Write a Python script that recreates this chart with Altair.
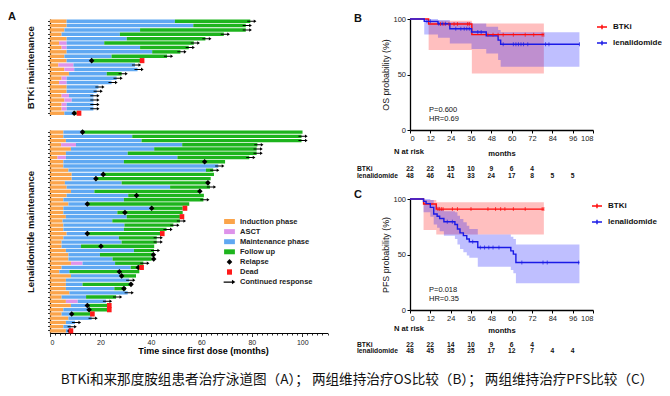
import altair as alt
import pandas as pd

FONT = "Liberation Sans"
CJK = "Noto Sans CJK SC"

# ---------------- Panel A: swimmer plot ----------------
PHASES = ["Induction phase", "ASCT", "Maintenance phase", "Follow up",
          "Relapse", "Dead", "Continued response"]
PHASE_COLORS = ["#fba44a", "#de93ea", "#5fa8f2", "#1db41d",
                "#000000", "#ff1a1a", "#000000"]
RECT = "M-1.2,-0.55H1.2V0.55H-1.2Z"
DIAMOND = "M0,-0.62L0.62,0L0,0.62L-0.62,0Z"
SQUARE = "M-0.55,-0.6H0.55V0.6H-0.55Z"
ARROW = "M-1.3,-0.14H0.55V-0.5L1.3,0L0.55,0.5V0.14H-1.3Z"
PHASE_SHAPES = [RECT, RECT, RECT, RECT, DIAMOND, SQUARE, ARROW]

btki_ind = [6.6, 6.6, 5.7, 4.6, 6.6, 3.6, 4.6, 6.6, 5.7, 6.6, 3.3, 5.7, 7.5, 4.6, 3.6,
            6.6, 6.6, 4.6, 5.7, 4.6, 4.6, 5.7]
btki_asct = [None, None, None, None, None, 6.6, 6.6, None, None, None, 9.3, 9.6, None,
             6.6, 6.6, None, None, 7.5, 8.6, 6.6, 6.6, None]
btki_maint = [49.5, 56.8, 35.7, 27.7, 30.4, 21.5, 35.7, 40.5, 24.4, 16.5, 33.7, 34.7,
              22.5, 26.4, 24.4, 19.2, 18.5, 17.2, 17.2, 17.2, 17.2, 9.3]
btki_follow = [79.4, 77.6, 77.6, 68.9, 61.6, 57.0, 55.0, 51.7, 46.4, 36.3, None, None,
               28.4, None, None, None, None, None, None, None, None, 10.6]
btki_relapse = [None] * 9 + [16.5] + [None] * 11 + [9.6]
btki_dead = [None] * 9 + [36.5] + [None] * 11 + [11.5]
btki_cont = [1, 1, 1, 1, 1, 1, 1, 1, 1, 0, 1, 1, 1, 1, 1, 1, 1, 1, 1, 1, 1, 0]

lena_ind = [5.3, 5.3, 6.3, 4.4, 8.3, 6.3, 3.0, 5.3, 5.3, 7.3, 8.6, 8.6, 5.9, 6.6, 8.3, 6.6,
            5.3, 7.3, 5.3, 5.3, 6.3, 5.0, 5.3, 5.3, 6.6, 5.3, 4.6, 4.6, 6.3, 7.3, 7.3, 8.3,
            4.6, 3.7, 8.3, 6.3, 6.3, 6.3, 7.7, 4.6, 6.3, 8.3, 5.3, 4.6, 7.3, 6.3, 5.3, 6.3]
lena_asct = [None, None, None, 10.3, None, None, 6.3] + [None] * 24 + [12.9] + \
            [None] * 8 + [11.0] + [None] * 7
lena_maint = [12.5, 32.6, 36.3, 52.4, 41.3, 30.8, 50.5, 29.3, 66.7, 61.8, 21.1, 18.2,
              28.4, 47.6, 17.6, 31.0, 29.3, 14.8, 40.3, 26.7, 30.4, 24.7, 29.5, 29.3,
              14.8, 27.3, 28.4, 12.3, 33.3, 19.8, 24.8, 25.8, 32.0, 7.7, 28.0, 31.4,
              12.9, 25.5, 30.8, 14.3, 22.2, 14.8, 15.2, 8.3, 16.5, 9.9, 8.2, 7.5]
lena_follow = [100.1, 99.7, 99.7, 82.2, 81.9, 81.9, 79.0, 69.4, None, 64.7, 65.0, 63.7,
               63.1, 63.4, 59.4, 61.0, 60.8, 55.2, 52.6, 52.6, 51.5, 51.5, 48.9, 46.2,
               43.6, 42.3, 42.3, 41.3, 41.2, 41.0, 40.3, 37.0, 35.7, 35.4, 34.1, None,
               32.4, 30.1, None, 26.2, None, 22.7, 22.7, 15.9, None, None, None, None]
lena_relapse = [12.9, None, None, None, None, None, None, 61.3, None, None, 21.1, 18.2,
                62.6, None, 59.4, 34.3, None, 14.8, 40.3, 29.7, None, None, None, None,
                14.8, None, None, 20.2, None, 41.0, 41.1, None, 35.0, 27.5, 28.4, None,
                32.1, 29.3, None, None, None, 14.8, 15.5, 8.6, None, None, None, 7.9]
lena_dead = [None] * 18 + [53.5, None, 52.3, None, None, None, 44.5] + [None] * 7 + \
            [36.3] + [None] * 8 + [23.5, 23.5, 16.8, None, None, None, 8.3]
lena_cont = [0, 1, 1, 1, 1, 1, 1, 0, 1, 1, 0, 0, 0, 1, 0, 0, 1, 0, 0, 0, 0, 1, 1, 1,
             0, 1, 1, 0, 1, 0, 0, 1, 0, 0, 0, 1, 0, 0, 1, 1, 1, 0, 0, 0, 1, 1, 1, 0]


def build_swim(ind, asct, maint, follow, relapse, dead, cont):
    seg, ev = [], []
    for i in range(len(ind)):
        r = i + 1
        seg.append({"row": r, "start": 0, "end": ind[i], "phase": "Induction phase"})
        m0 = ind[i]
        if asct[i] is not None:
            seg.append({"row": r, "start": ind[i], "end": asct[i], "phase": "ASCT"})
            m0 = asct[i]
        seg.append({"row": r, "start": m0, "end": maint[i], "phase": "Maintenance phase"})
        last = maint[i]
        if follow[i] is not None:
            seg.append({"row": r, "start": maint[i], "end": follow[i], "phase": "Follow up"})
            last = follow[i]
        if relapse[i] is not None:
            ev.append({"row": r, "t": relapse[i], "phase": "Relapse"})
        if dead[i] is not None:
            ev.append({"row": r, "t": dead[i], "phase": "Dead"})
        if cont[i]:
            ev.append({"row": r, "t": last + 0.6, "phase": "Continued response"})
    return pd.DataFrame(seg), pd.DataFrame(ev)


color_scale = alt.Scale(domain=PHASES, range=PHASE_COLORS)
shape_scale = alt.Scale(domain=PHASES, range=PHASE_SHAPES)
XS_A = alt.Scale(domain=[0, 110], nice=False)


def swim_chart(seg, ev, height, title, bottom, legend, letter=False):
    if bottom:
        xaxis = alt.Axis(values=list(range(0, 111, 2)),
                         labelExpr="datum.value % 20 === 0 ? datum.label : ''",
                         tickSize={"condition": {"test": "datum.value % 20 === 0", "value": 3.5},
                                   "value": 2},
                         labelFontSize=7, labelPadding=2, labelColor="#222",
                         title="Time since first dose (months)", titleFontSize=9,
                         titleFontWeight="bold", titlePadding=1, titleX=153,
                         titleAlign="center", domainWidth=1.2, tickWidth=0.8)
    else:
        xaxis = None
    yaxis = alt.Axis(title=title, labels=False, ticks=True, tickSize=2.5, tickWidth=0.8,
                     domainWidth=1.2, titleFontSize=9.5, titleFontWeight="bold",
                     titlePadding=12, titleColor="#111")
    ysc = alt.Scale(paddingInner=0.2, paddingOuter=0.1)
    bars = alt.Chart(seg).mark_bar().encode(
        x=alt.X("start:Q", scale=XS_A, axis=xaxis),
        x2="end:Q",
        y=alt.Y("row:O", scale=ysc, axis=yaxis),
        color=alt.Color("phase:N", scale=color_scale, legend=legend),
    )
    layers = [bars]
    sizes = {"Relapse": 81, "Dead": 72, "Continued response": 50}
    for ph in ["Relapse", "Dead", "Continued response"]:
        layers.append(
            alt.Chart(ev).transform_filter(alt.datum.phase == ph)
            .mark_point(filled=True, opacity=1, size=sizes[ph], strokeWidth=0)
            .encode(
                x=alt.X("t:Q", scale=XS_A, axis=xaxis),
                y=alt.Y("row:O", scale=ysc, axis=yaxis),
                color=alt.Color("phase:N", scale=color_scale, legend=legend),
                shape=alt.Shape("phase:N", scale=shape_scale, legend=legend),
            )
        )
    if letter:
        layers.append(
            alt.Chart(pd.DataFrame({"txt": ["A"]})).mark_text(
                align="left", baseline="middle", font=FONT, fontSize=11, fontWeight="bold",
                color="#111").encode(x=alt.value(-42), y=alt.value(-2), text="txt:N")
        )
    return alt.layer(*layers).properties(width=277.5, height=height)


btki_seg, btki_ev = build_swim(btki_ind, btki_asct, btki_maint, btki_follow,
                               btki_relapse, btki_dead, btki_cont)
lena_seg, lena_ev = build_swim(lena_ind, lena_asct, lena_maint, lena_follow,
                               lena_relapse, lena_dead, lena_cont)

legA = alt.Legend(orient="none", legendX=175, legendY=87, title=None, labelFont=FONT,
                  labelFontSize=7.5, labelFontWeight="bold", labelColor="#222",
                  symbolSize=81, symbolStrokeWidth=0, rowPadding=2.1, labelOffset=6,
                  padding=0)

chartA = alt.vconcat(
    swim_chart(btki_seg, btki_ev, 96.4, "BTKi maintenance", False, None, letter=True),
    swim_chart(lena_seg, lena_ev, 203.0, "Lenalidomide maintenance", True, legA),
    spacing=13,
).resolve_scale(color="independent", shape="independent")

# ---------------- Panels B / C: Kaplan-Meier ----------------
GROUPS = ["BTKi", "lenalidomide"]
GROUP_COLORS = ["#ff0a0a", "#1a1ae6"]
BAND_COLORS = ["#ff0000", "#0000ff"]

os_btki_t = [0, 11, 36.5, 79]
os_btki_s = [100, 95.5, 85.9, 85.9]
os_lena_t = [0, 8.4, 16.5, 23.5, 36.3, 45, 52, 53.5, 100]
os_lena_s = [100, 97.9, 95.7, 91.2, 88.3, 84.8, 81, 77.2, 77.2]
os_btki_band_t = [11, 36.5, 79]
os_btki_lo = [72, 51, 51]
os_btki_hi = [98.5, 96, 96]
os_lena_band_t = [8.4, 16.5, 23.5, 36.3, 45, 52, 53.5, 100]
os_lena_lo = [86, 83, 78, 73, 69, 63, 57, 57]
os_lena_hi = [100, 99, 97, 96, 93, 90, 88, 88]
os_btki_cens = [18, 20, 23, 26, 28, 34, 35, 46, 49, 52, 55, 61, 68, 73, 78, 79]
os_lena_cens = [10, 12, 17, 19, 21, 27, 30, 32, 33.5, 35, 40, 42, 55, 61, 62.5, 64,
                65.5, 67, 69.5, 80, 82, 100]

pfs_btki_t = [0, 8, 15.5, 79]
pfs_btki_s = [100, 95.5, 90.9, 90.9]
pfs_lena_t = [0, 8, 9.5, 12, 14, 16, 17.5, 20, 26.5, 28, 29.5, 31.5, 33.5, 35, 40,
              59.5, 61, 62.5, 100]
pfs_lena_s = [100, 97.9, 95.8, 92.5, 86.5, 84.5, 82.5, 79.5, 77, 73, 69.5, 67, 64,
              61.5, 56.3, 53.3, 50.3, 42.8, 42.8]
pfs_btki_band_t = [8, 15.5, 79]
pfs_btki_lo = [72, 68, 68]
pfs_btki_hi = [99, 97, 97]
pfs_lena_band_t = [8, 12, 14, 16, 17.5, 20, 26.5, 28, 29.5, 31.5, 33.5, 35, 40, 59.5,
                   61, 62.5, 100]
pfs_lena_lo = [88, 84, 77, 74, 71, 67, 64, 59, 55, 52, 49, 47, 39, 36, 33, 24, 24]
pfs_lena_hi = [100, 99, 95, 93, 91, 89, 88, 85, 82, 79, 76, 73, 68, 66, 64, 59, 59]
pfs_btki_cens = [16.5, 17.5, 18.5, 19.5, 25, 28, 36, 46, 50.5, 53.5, 56, 61, 68, 78, 79]
pfs_lena_cens = [22, 25, 37, 41.5, 44, 46.5, 49, 52.5, 66, 78.5, 81, 99.5]

risk_t = [0, 12, 24, 36, 48, 60, 72, 84, 96]
os_risk_btki = [22, 22, 15, 10, 9, 6, 4]
os_risk_lena = [48, 46, 41, 33, 24, 17, 8, 5, 5]
pfs_risk_btki = [22, 22, 14, 10, 9, 6, 4]
pfs_risk_lena = [48, 45, 35, 25, 17, 12, 7, 4, 4]


def step_at(ts, ss, t):
    v = ss[0]
    for a, b in zip(ts, ss):
        if a <= t:
            v = b
    return v


def km_chart(curves, bands, cens, risks, ylabel, p_txt, hr_txt, letter, letter_y,
             leg_x, leg_y, months_pad, nrisk_y, risk_y1, risk_y2):
    W, H = 183, 111
    xs = alt.Scale(domain=[0, 108], nice=False)
    ys = alt.Scale(domain=[0, 100], nice=False)
    xaxis = alt.Axis(values=list(range(0, 109, 12)), title="months", titleFontSize=7.6,
                     titleFontWeight="bold", titlePadding=months_pad, labelFontSize=7.5,
                     labelPadding=1.5, tickSize=3, domainWidth=1.3, tickWidth=1,
                     labelColor="#222", titleColor="#111")
    yaxis = alt.Axis(values=[0, 50, 100], title=ylabel, titleFontSize=8.8,
                     titleFontWeight="normal", titlePadding=2, labelFontSize=7.5,
                     labelPadding=1.5, tickSize=3, domainWidth=1.3, tickWidth=1,
                     labelColor="#222", titleColor="#111")
    layers = []
    for (bt, lo, hi), c in zip(bands, BAND_COLORS):
        df = pd.DataFrame({"t": bt, "lo": lo, "hi": hi})
        layers.append(alt.Chart(df).mark_area(interpolate="step-after", color=c,
                                              opacity=0.25).encode(
            x=alt.X("t:Q", scale=xs, axis=xaxis),
            y=alt.Y("lo:Q", scale=ys, axis=yaxis), y2="hi:Q"))
    rows = []
    for g, (ct, cs) in zip(GROUPS, curves):
        for a, b in zip(ct, cs):
            rows.append({"group": g, "t": a, "s": b})
    layers.append(alt.Chart(pd.DataFrame(rows)).mark_line(
        interpolate="step-after", strokeWidth=1.4).encode(
        x=alt.X("t:Q", scale=xs, axis=xaxis),
        y=alt.Y("s:Q", scale=ys, axis=yaxis),
        color=alt.Color("group:N", scale=alt.Scale(domain=GROUPS, range=GROUP_COLORS),
                        legend=alt.Legend(orient="none", legendX=leg_x, legendY=leg_y,
                                          title=None, symbolType="M-1,0H1M0,-0.45V0.45",
                                          symbolSize=100, symbolStrokeWidth=1.4,
                                          labelFont=FONT, labelFontSize=8,
                                          labelFontWeight="bold", labelColor="#111",
                                          rowPadding=4, labelOffset=5, padding=0))))
    for (ct, cs), ctimes, c in zip(curves, cens, GROUP_COLORS):
        df = pd.DataFrame({"t": ctimes, "s": [step_at(ct, cs, x) for x in ctimes]})
        layers.append(alt.Chart(df).mark_tick(orient="vertical", size=4, thickness=1,
                                              color=c).encode(
            x=alt.X("t:Q", scale=xs, axis=xaxis), y=alt.Y("s:Q", scale=ys, axis=yaxis)))
    # annotations
    for txt, yy in [(p_txt, 91), (hr_txt, 100)]:
        layers.append(alt.Chart(pd.DataFrame({"txt": [txt]})).mark_text(
            align="left", baseline="middle", font=FONT, fontSize=7.5, color="#111").encode(
            x=alt.value(19), y=alt.value(yy), text="txt:N"))
    layers.append(alt.Chart(pd.DataFrame({"txt": [letter]})).mark_text(
        align="left", baseline="middle", font=FONT, fontSize=11, fontWeight="bold",
        color="#111").encode(x=alt.value(-56), y=alt.value(letter_y), text="txt:N"))
    layers.append(alt.Chart(pd.DataFrame({"txt": ["N at risk"]})).mark_text(
        align="left", baseline="middle", font=FONT, fontSize=7.6, fontWeight="bold",
        color="#111").encode(x=alt.value(-16), y=alt.value(H + nrisk_y), text="txt:N"))
    for g, nums, yy in zip(GROUPS, risks, [risk_y1, risk_y2]):
        layers.append(alt.Chart(pd.DataFrame({"txt": [g]})).mark_text(
            align="left", baseline="middle", font=FONT, fontSize=6.7, fontWeight="bold",
            color="#111").encode(x=alt.value(-53), y=alt.value(H + yy), text="txt:N"))
        df = pd.DataFrame({"t": risk_t[:len(nums)], "n": nums})
        layers.append(alt.Chart(df).mark_text(
            align="center", baseline="middle", font=FONT, fontSize=6.7, fontWeight="bold",
            color="#111").encode(x=alt.X("t:Q", scale=xs, axis=xaxis),
                                 y=alt.value(H + yy), text="n:Q"))
    return alt.layer(*layers).properties(width=W, height=H)


chartB = km_chart(
    [(os_btki_t, os_btki_s), (os_lena_t, os_lena_s)],
    [(os_btki_band_t, os_btki_lo, os_btki_hi), (os_lena_band_t, os_lena_lo, os_lena_hi)],
    [os_btki_cens, os_lena_cens], [os_risk_btki, os_risk_lena],
    "OS probability (%)", "P=0.600", "HR=0.69", "B", 0, 186, 2, 7, 22.4, 39.4, 45.7)
chartC = km_chart(
    [(pfs_btki_t, pfs_btki_s), (pfs_lena_t, pfs_lena_s)],
    [(pfs_btki_band_t, pfs_btki_lo, pfs_btki_hi),
     (pfs_lena_band_t, pfs_lena_lo, pfs_lena_hi)],
    [pfs_btki_cens, pfs_lena_cens], [pfs_risk_btki, pfs_risk_lena],
    "PFS probability (%)", "P=0.018", "HR=0.35", "C", -4, 181, 1, 4, 18.7, 35.3, 41)

right = alt.vconcat(chartB, chartC, spacing=9).resolve_scale(
    color="independent", shape="independent")

CAPTION = "BTKi和来那度胺组患者治疗泳道图（A）； 两组维持治疗OS比较（B）； 两组维持治疗PFS比较（C）"

chart = alt.hconcat(chartA, right, spacing=25).resolve_scale(
    color="independent", shape="independent").properties(
    title=alt.TitleParams(text=CAPTION, orient="bottom", anchor="middle", font=CJK,
                          fontSize=13.6, fontWeight="normal", color="#111", offset=17, dx=22),
    padding={"left": 0, "top": 3, "right": 0, "bottom": 0},
).configure_view(stroke=None).configure_axis(
    labelFont=FONT, titleFont=FONT, grid=False, domainColor="#000", tickColor="#000")

chart.save("out.html", embed_options={"renderer": "svg", "actions": False})
